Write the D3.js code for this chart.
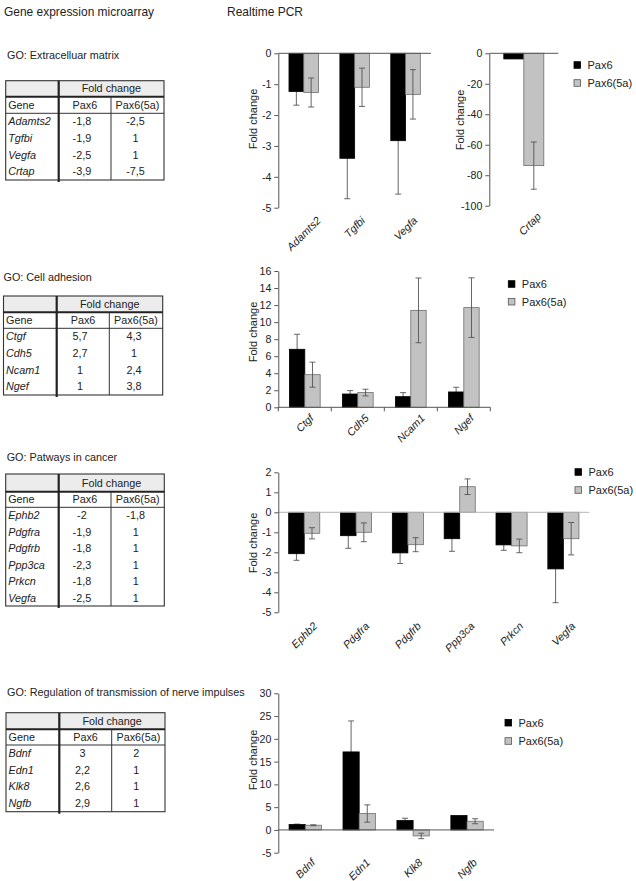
<!DOCTYPE html>
<html><head><meta charset="utf-8">
<script src="https://cdn.jsdelivr.net/npm/d3@7"></script>
<style>
body{margin:0;background:#fff;}
text{font-family:"Liberation Sans",Arial,sans-serif;}
</style>
</head><body>
<script>
// ---------------- DATA ----------------
const seriesNames = ["Pax6", "Pax6(5a)"];
const tableHeader = ["Gene", "Fold change"];

// Extracellular matrix
const ecmTableGenes = ["Adamts2", "Tgfbi", "Vegfa", "Crtap"];
const ecmTablePax6 = ["-1,8", "-1,9", "-2,5", "-3,9"];
const ecmTable5a = ["-2,5", "1", "1", "-7,5"];
const ecmGenes = ["Adamts2", "Tgfbi", "Vegfa"];
const ecmPax6 = [-1.24, -3.40, -2.83];
const ecmPax6Err = [0.44, 1.31, 1.73];
const ecm5a = [-1.27, -1.10, -1.33];
const ecm5aErr = [0.47, 0.62, 0.80];
const ecmTicks = [0, -1, -2, -3, -4, -5];
const crtapGenes = ["Crtap"];
const crtapPax6 = [-3.7];
const crtapPax6Err = [0];
const crtap5a = [-73.7];
const crtap5aErr = [15.5];
const crtapTicks = [0, -20, -40, -60, -80, -100];

// Cell adhesion
const adhGenes = ["Ctgf", "Cdh5", "Ncam1", "Ngef"];
const adhTablePax6 = ["5,7", "2,7", "1", "1"];
const adhTable5a = ["4,3", "1", "2,4", "3,8"];
const adhPax6 = [6.81, 1.56, 1.25, 1.80];
const adhPax6Err = [1.76, 0.40, 0.47, 0.55];
const adh5a = [3.83, 1.73, 11.38, 11.70];
const adh5aErr = [1.47, 0.39, 3.80, 3.50];
const adhTicks = [0, 2, 4, 6, 8, 10, 12, 14, 16];

// Pathways in cancer
const canGenes = ["Ephb2", "Pdgfra", "Pdgfrb", "Ppp3ca", "Prkcn", "Vegfa"];
const canTablePax6 = ["-2", "-1,9", "-1,8", "-2,3", "-1,8", "-2,5"];
const canTable5a = ["-1,8", "1", "1", "1", "1", "1"];
const canPax6 = [-2.07, -1.17, -2.03, -1.32, -1.63, -2.83];
const canPax6Err = [0.33, 0.63, 0.53, 0.63, 0.27, 1.69];
const can5a = [-1.05, -1.00, -1.62, 1.28, -1.68, -1.32];
const can5aErr = [0.28, 0.47, 0.35, 0.39, 0.34, 0.81];
const canTicks = [2, 1, 0, -1, -2, -3, -4, -5];

// Regulation of transmission of nerve impulses
const nerGenes = ["Bdnf", "Edn1", "Klk8", "Ngfb"];
const nerTablePax6 = ["3", "2,2", "2,6", "2,9"];
const nerTable5a = ["2", "1", "1", "1"];
const nerPax6 = [1.18, 17.13, 2.06, 3.16];
const nerPax6Err = [0.10, 6.80, 0.50, 0];
const ner5a = [1.03, 3.60, -1.32, 1.91];
const ner5aErr = [0.10, 1.90, 0.60, 0.55];
const nerTicks = [30, 25, 20, 15, 10, 5, 0, -5];

const goLabels = ["GO: Extracelluar matrix", "GO: Cell adhesion", "GO: Patways in cancer",
                  "GO: Regulation of transmission of nerve impulses"];

// ---------------- DRAW ----------------
const W = 636, H = 881;
const svg = d3.select("body").append("svg").attr("width", W).attr("height", H);
const FS = 10.8;

svg.append("text").attr("x", 4).attr("y", 15.5).attr("font-size", 13.5).attr("fill", "#222")
  .attr("textLength", 150).attr("lengthAdjust", "spacingAndGlyphs")
  .text("Gene expression microarray");
svg.append("text").attr("x", 227).attr("y", 15.5).attr("font-size", 13.5).attr("fill", "#222")
  .attr("textLength", 76).attr("lengthAdjust", "spacingAndGlyphs")
  .text("Realtime PCR");

const goPos = [[7, 59], [3.5, 281], [6.7, 461], [7, 696]];
goLabels.forEach((t, i) => {
  svg.append("text").attr("x", goPos[i][0]).attr("y", goPos[i][1]).attr("font-size", FS)
    .attr("fill", "#222").text(t);
});

function drawTable(c) {
  const g = svg.append("g");
  g.append("rect").attr("x", c.x0).attr("y", c.y0).attr("width", c.x1 - c.x0)
    .attr("height", c.yHead - c.y0).attr("fill", "#ececec");
  g.append("rect").attr("x", c.x0).attr("y", c.y0).attr("width", c.x1 - c.x0)
    .attr("height", c.y1 - c.y0).attr("fill", "none").attr("stroke", "#333").attr("stroke-width", 1.1);
  g.append("line").attr("x1", c.x0).attr("x2", c.x1).attr("y1", c.yHead).attr("y2", c.yHead)
    .attr("stroke", "#222").attr("stroke-width", 2);
  g.append("line").attr("x1", c.x0).attr("x2", c.x1).attr("y1", c.yGene).attr("y2", c.yGene)
    .attr("stroke", "#333").attr("stroke-width", 1);
  g.append("line").attr("x1", c.xThick).attr("x2", c.xThick).attr("y1", c.y0).attr("y2", c.y1 + 2)
    .attr("stroke", "#222").attr("stroke-width", 2.2);
  g.append("line").attr("x1", c.xDiv).attr("x2", c.xDiv).attr("y1", c.yHead).attr("y2", c.y1)
    .attr("stroke", "#333").attr("stroke-width", 1);
  const colP = (c.xThick + c.xDiv) / 2, col5 = (c.xDiv + c.x1) / 2;
  g.append("text").attr("x", (c.xThick + c.x1) / 2).attr("y", (c.y0 + c.yHead) / 2).attr("dy", "0.35em")
    .attr("text-anchor", "middle").attr("font-size", FS).attr("fill", "#222").text(tableHeader[1]);
  const gy = (c.yHead + c.yGene) / 2;
  g.append("text").attr("x", c.x0 + 2.5).attr("y", gy).attr("dy", "0.35em")
    .attr("font-size", FS).attr("fill", "#222").text(tableHeader[0]);
  g.append("text").attr("x", colP).attr("y", gy).attr("dy", "0.35em").attr("text-anchor", "middle")
    .attr("font-size", FS).attr("fill", "#222").text(seriesNames[0]);
  g.append("text").attr("x", col5).attr("y", gy).attr("dy", "0.35em").attr("text-anchor", "middle")
    .attr("font-size", FS).attr("fill", "#222").text(seriesNames[1]);
  const n = c.genes.length;
  const ry = d3.scaleBand().domain(d3.range(n)).range([c.yGene, c.y1]);
  c.genes.forEach((gname, i) => {
    const y = ry(i) + ry.bandwidth() / 2;
    g.append("text").attr("x", c.x0 + 2.5).attr("y", y).attr("dy", "0.35em").attr("font-size", FS)
      .attr("font-style", "italic").attr("fill", "#222").text(gname);
    g.append("text").attr("x", colP - 3).attr("y", y).attr("dy", "0.35em").attr("text-anchor", "middle")
      .attr("font-size", FS).attr("fill", "#222").text(c.p[i]);
    g.append("text").attr("x", col5 - 2).attr("y", y).attr("dy", "0.35em").attr("text-anchor", "middle")
      .attr("font-size", FS).attr("fill", "#222").text(c.a[i]);
  });
}

drawTable({x0: 5.7, x1: 164, y0: 80.7, yHead: 96.7, yGene: 113.3, y1: 180, xThick: 58.7, xDiv: 111,
  genes: ecmTableGenes, p: ecmTablePax6, a: ecmTable5a});
drawTable({x0: 3.5, x1: 162.7, y0: 296, yHead: 312.3, yGene: 328.3, y1: 395, xThick: 56.7, xDiv: 109.3,
  genes: adhGenes, p: adhTablePax6, a: adhTable5a});
drawTable({x0: 5.7, x1: 164.3, y0: 474, yHead: 491.7, yGene: 507.3, y1: 606, xThick: 58.7, xDiv: 111,
  genes: canGenes, p: canTablePax6, a: canTable5a});
drawTable({x0: 6, x1: 165, y0: 712.7, yHead: 729.3, yGene: 745, y1: 811.7, xThick: 59.3, xDiv: 111.7,
  genes: nerGenes, p: nerTablePax6, a: nerTable5a});

function drawChart(c) {
  const g = svg.append("g");
  const x = d3.scaleBand().domain(c.genes).range(c.xr).paddingInner(c.pad).paddingOuter(c.pad / 2);
  const xs = d3.scaleBand().domain([0, 1]).range([0, x.bandwidth()]);
  const y = d3.scaleLinear().domain(c.yd).range(c.yr);
  const series = [
    {v: c.s1, e: c.e1, fill: "#000", stroke: "#000"},
    {v: c.s2, e: c.e2, fill: "#c2c2c2", stroke: "#6e6e6e"}
  ];
  function errBars(si) {
    const s = series[si];
    c.genes.forEach((d, i) => {
      if (!s.e[i]) return;
      const cx = x(d) + xs(si) + xs.bandwidth() / 2;
      const yt = y(s.v[i] + s.e[i]), yb = y(s.v[i] - s.e[i]);
      const col = "#555";
      g.append("line").attr("x1", cx).attr("x2", cx).attr("y1", yt).attr("y2", yb)
        .attr("stroke", col).attr("stroke-width", 0.9);
      [yt, yb].forEach(yy => g.append("line").attr("x1", cx - 3).attr("x2", cx + 3)
        .attr("y1", yy).attr("y2", yy).attr("stroke", col).attr("stroke-width", 0.9));
    });
  }
  // black series error bars first so the bar hides the inner half
  errBars(0);
  series.forEach((s, si) => {
    g.selectAll(null).data(c.genes).enter().append("rect")
      .attr("x", d => x(d) + xs(si))
      .attr("width", xs.bandwidth())
      .attr("y", (d, i) => Math.min(y(0), y(s.v[i])))
      .attr("height", (d, i) => Math.abs(y(s.v[i]) - y(0)))
      .attr("fill", s.fill).attr("stroke", s.stroke).attr("stroke-width", 0.8);
  });
  // zero line
  g.append("line").attr("x1", c.xr[0]).attr("x2", c.xr[1]).attr("y1", y(0)).attr("y2", y(0))
    .attr("stroke", c.zeroColor || "#555").attr("stroke-width", 1);
  if (c.catTicks) {
    const bounds = c.genes.map(d => x(d) - x.step() * x.paddingInner() / 2).concat([c.xr[1]]);
    g.selectAll(null).data(bounds).enter().append("line")
      .attr("x1", d => d).attr("x2", d => d).attr("y1", y(0)).attr("y2", y(0) + 4)
      .attr("stroke", "#555");
  }
  errBars(1);
  // y axis
  const ax = g.append("g").attr("transform", `translate(${c.xr[0]},0)`)
    .call(d3.axisLeft(y).tickValues(c.ticks).tickSize(4).tickSizeOuter(0).tickPadding(3)
      .tickFormat(d => String(d)));
  ax.select(".domain").attr("stroke", "#555");
  ax.selectAll(".tick line").attr("stroke", "#555");
  ax.selectAll(".tick text").attr("font-size", 10.6).attr("fill", "#222")
    .attr("font-family", '"Liberation Sans",Arial,sans-serif');
  // y label
  g.append("text").attr("transform", `translate(${c.ylabX},${c.ylabY}) rotate(-90)`)
    .attr("text-anchor", "middle").attr("font-size", 11).attr("fill", "#222").text("Fold change");
  // x labels
  const bottom = Math.max(c.yr[0], c.yr[1]);
  c.genes.forEach(d => {
    const t = g.append("text").attr("font-size", 10.8).attr("font-style", "italic")
      .attr("fill", "#222").attr("text-anchor", "middle").attr("dy", "0.35em").text(d);
    const L = t.node().getComputedTextLength();
    const h = 8;
    const cx = x(d) + x.bandwidth() / 2 + (c.labDx || 0);
    const cy = bottom + (c.labTop || 7) + (L + h) * 0.3536;
    t.attr("transform", `translate(${cx},${cy}) rotate(-45)`);
  });
  // legend
  if (c.leg) {
    series.forEach((s, si) => {
      const ly = c.leg[1] + si * c.leg[2];
      g.append("rect").attr("x", c.leg[0]).attr("y", ly - 3.3).attr("width", 6.6).attr("height", 6.6)
        .attr("fill", s.fill).attr("stroke", si ? "#555" : "#000").attr("stroke-width", 0.8);
      g.append("text").attr("x", c.leg[0] + 13.5).attr("y", ly).attr("dy", "0.35em")
        .attr("font-size", 11).attr("fill", "#222").text(seriesNames[si]);
    });
  }
}

drawChart({genes: ecmGenes, s1: ecmPax6, e1: ecmPax6Err, s2: ecm5a, e2: ecm5aErr, ticks: ecmTicks,
  xr: [278.3, 431], yd: [-5, 0], yr: [207.7, 53.3], pad: 0.42, ylabX: 257, ylabY: 119, labTop: 8});
drawChart({genes: crtapGenes, s1: crtapPax6, e1: crtapPax6Err, s2: crtap5a, e2: crtap5aErr, ticks: crtapTicks,
  xr: [489.3, 558.3], yd: [-100, 0], yr: [205.7, 53.3], pad: 0.42, ylabX: 464, ylabY: 120,
  leg: [574, 65, 18], labTop: 6, labDx: 6});
drawChart({genes: adhGenes, s1: adhPax6, e1: adhPax6Err, s2: adh5a, e2: adh5aErr, ticks: adhTicks,
  xr: [278.3, 490.3], yd: [0, 16], yr: [407.3, 271], pad: 0.42, ylabX: 257, ylabY: 332,
  leg: [508.3, 284, 17.7], catTicks: true, labTop: 6});
drawChart({genes: canGenes, s1: canPax6, e1: canPax6Err, s2: can5a, e2: can5aErr, ticks: canTicks,
  xr: [278.3, 589.3], yd: [-5, 2], yr: [612.3, 472.3], pad: 0.40, ylabX: 257, ylabY: 543,
  leg: [575, 472, 18], zeroColor: "#b5b5b5", labTop: 9});
drawChart({genes: nerGenes, s1: nerPax6, e1: nerPax6Err, s2: ner5a, e2: ner5aErr, ticks: nerTicks,
  xr: [278.3, 494], yd: [-5, 30], yr: [852.7, 693.3], pad: 0.40, ylabX: 257, ylabY: 760,
  leg: [505, 722.7, 18.3], labTop: 5});
</script>
</body></html>
